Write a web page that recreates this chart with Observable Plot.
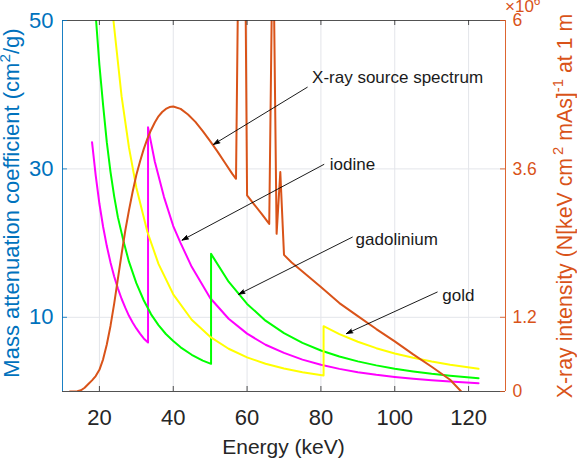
<!DOCTYPE html>
<html>
<head>
<meta charset="utf-8">
<script src="https://cdn.jsdelivr.net/npm/d3@7"></script>
<script src="https://cdn.jsdelivr.net/npm/@observablehq/plot@0.6"></script>
<style>
  html, body { margin: 0; padding: 0; background: #fff; }
  #chart { width: 577px; height: 460px; }
</style>
</head>
<body>
<div id="chart"></div>
<script>
// ---- axes ----
const energyTicks = [20, 40, 60, 80, 100, 120];
const muTicks = [10, 30, 50];
const intensityTicks = [0, 1.2, 3.6, 6];   // ×10^6
const energyDomain = [10, 130];
const muMax = 50;
const intensityMax = 6;

// ---- mass attenuation coefficients (cm^2/g) ----
const iodineEnergy = [18, 19, 20, 21, 22, 23, 24, 25, 26, 27, 28, 29, 30, 31, 32, 33.17, 33.17,
  35, 37.5, 40, 42, 45, 50, 55, 60, 65, 70, 75, 80, 85, 90, 95, 100, 105, 110, 115, 122.7];
const iodineMu = [33.6, 29.1, 25.3, 22.2, 19.6, 17.4, 15.5, 13.9, 12.5, 11.3, 10.2, 9.3, 8.5, 7.8, 7.15, 6.6, 35.6,
  31.0, 26.2, 22.3, 20.0, 16.8, 12.6, 9.8, 7.8, 6.3, 5.2, 4.3, 3.6, 3.05, 2.6, 2.25, 1.96, 1.72, 1.52, 1.35, 1.12];

const gadoliniumEnergy = [18.5, 19.1, 20, 21, 22, 23, 24, 25, 26.6, 28, 30, 32, 34, 36, 38, 40, 42, 45, 48, 50.24, 50.24,
  55, 60, 65, 70, 75, 80, 85, 90, 95, 100, 105, 110, 115, 122.7];
const gadoliniumMu = [54.5, 50, 44, 38.6, 33.6, 29.6, 26.3, 23.5, 20.1, 17.5, 14.6, 12.3, 10.4, 8.95, 7.75, 6.8, 5.95, 4.95, 4.17, 3.73, 18.55,
  14.8, 11.8, 9.55, 7.86, 6.56, 5.53, 4.72, 4.06, 3.52, 3.08, 2.71, 2.39, 2.13, 1.8];

const goldEnergy = [22, 23.8, 26, 28, 30, 33, 36, 40, 45, 50, 55, 60, 65, 70, 75, 80.72, 80.72,
  85, 90, 95, 100, 105, 110, 115, 122.7];
const goldMu = [61.3, 50, 39.8, 32.9, 27.5, 21.5, 17.2, 13.1, 9.67, 7.37, 5.76, 4.6, 3.74, 3.09, 2.59, 2.16, 8.8,
  7.74, 6.70, 5.84, 5.13, 4.54, 4.03, 3.60, 3.06];

// ---- X-ray source spectrum (×10^6 N/[keV cm^2 mAs] at 1 m) ----
const spectrumEnergy = [12, 13, 14, 15, 16, 17, 18, 19, 20, 21, 22, 23, 24, 25, 26, 27, 28, 29, 30,
  31, 32, 33, 34, 35, 36, 37, 38, 39, 40, 42, 44, 46, 48, 50, 52, 54, 56, 57, 58, 59, 60,
  62, 64, 66, 67, 68, 69, 70, 72, 75, 80, 85, 90, 95, 100, 105, 110, 115, 118];
const spectrumIntensity = [0, 0, 0.005, 0.02, 0.06, 0.12, 0.18, 0.25, 0.35, 0.52, 0.76, 1.06, 1.42, 1.82, 2.22, 2.6, 2.93, 3.23, 3.5,
  3.72, 3.92, 4.09, 4.23, 4.35, 4.45, 4.52, 4.57, 4.6, 4.61, 4.57, 4.48, 4.36, 4.21, 4.05, 3.88, 3.7, 3.52, 3.44, 9, 11, 3.17,
  3.02, 2.87, 2.71, 7.8, 2.55, 3.55, 2.21, 2.09, 1.94, 1.69, 1.43, 1.22, 1.01, 0.81, 0.6, 0.4, 0.19, 0];

// ---- annotations (energy keV, mass attenuation) ----
const noteText = ["X-ray source spectrum", "iodine", "gadolinium", "gold"];
const noteEnergy = [77.6, 82.4, 89.4, 112.9];
const noteMu = [42.3, 30.6, 20.5, 12.9];
const arrowTailEnergy = [76.3, 80.8, 88.5, 111.5];
const arrowTailMu = [41.0, 30.6, 20.8, 13.4];
const arrowTipEnergy = [50.9, 42.4, 57.7, 86.9];
const arrowTipMu = [33.3, 20.4, 13.1, 7.8];

// ---- style ----
const BLUE = "#0072BD", ORANGE = "#D95319", INK = "#262626", GRID = "#e3e5ea";
const FONT = "'Liberation Sans', Arial, Helvetica, sans-serif";
const W = 577, H = 460, mL = 62, mR = 72, mT = 20, mB = 69;
const plotW = W - mL - mR, plotH = H - mT - mB, tickLen = 5;

const series = (E, V) => E.map((e, i) => ({energy: e, value: V[i]}));
const iodine = series(iodineEnergy, iodineMu);
const gadolinium = series(gadoliniumEnergy, gadoliniumMu);
const gold = series(goldEnergy, goldMu);
const spectrum = series(spectrumEnergy, spectrumIntensity);
const toMu = v => v * muMax / intensityMax;   // right-axis units onto the left scale

const notes = noteText.map((t, i) => ({
  text: t, x: noteEnergy[i], y: noteMu[i],
  x1: arrowTailEnergy[i], y1: arrowTailMu[i], x2: arrowTipEnergy[i], y2: arrowTipMu[i]
}));

const chart = Plot.plot({
  width: W, height: H,
  marginLeft: mL, marginRight: mR, marginTop: mT, marginBottom: mB,
  x: {domain: energyDomain},
  y: {domain: [0, muMax]},
  style: {fontFamily: FONT, background: "white", overflow: "visible"},
  marks: [
    Plot.ruleX(energyTicks, {stroke: GRID, strokeOpacity: 1}),
    Plot.ruleY([10, 30], {stroke: GRID, strokeOpacity: 1}),

    Plot.line(iodine, {x: "energy", y: "value", stroke: "#ff00ff", strokeWidth: 2, clip: true}),
    Plot.line(gadolinium, {x: "energy", y: "value", stroke: "#00ff00", strokeWidth: 2, clip: true}),
    Plot.line(gold, {x: "energy", y: "value", stroke: "#ffff00", strokeWidth: 2, clip: true}),
    Plot.line(spectrum, {x: "energy", y: d => toMu(d.value), stroke: ORANGE, strokeWidth: 2, clip: true}),

    // box
    Plot.ruleY([0, muMax], {stroke: INK, strokeWidth: 0.8}),
    Plot.ruleX([energyDomain[0]], {stroke: BLUE, strokeWidth: 0.9}),
    Plot.ruleX([energyDomain[1]], {stroke: ORANGE, strokeWidth: 0.9}),

    // inward ticks
    Plot.tickX(energyTicks, {x: d => d, insetTop: plotH - tickLen, stroke: INK, strokeWidth: 0.8}),
    Plot.tickX(energyTicks, {x: d => d, insetBottom: plotH - tickLen, stroke: INK, strokeWidth: 0.8}),
    Plot.tickY(muTicks, {y: d => d, insetRight: plotW - tickLen, stroke: BLUE, strokeWidth: 0.8}),
    Plot.tickY(intensityTicks, {y: toMu, insetLeft: plotW - tickLen, stroke: ORANGE, strokeWidth: 0.8}),

    // tick labels
    Plot.axisX(energyTicks, {tickSize: 0, tickPadding: 18, fontSize: 22, color: INK, label: null}),
    Plot.axisY(muTicks, {anchor: "left", tickSize: 0, tickPadding: 9, fontSize: 22, color: BLUE, label: null}),
    Plot.text(intensityTicks, {x: energyDomain[1], y: toMu, text: d => String(d), dx: 7,
      textAnchor: "start", fill: ORANGE, fontSize: 17.5}),

    // annotations
    Plot.arrow(notes, {x1: "x1", y1: "y1", x2: "x2", y2: "y2", stroke: "#000", fill: "#000",
      strokeWidth: 0.9, headLength: 11, headAngle: 36}),
    Plot.text(notes, {x: "x", y: "y", text: "text", textAnchor: "start", fontSize: 17, fill: "#1a1a1a"})
  ]
});

document.getElementById("chart").appendChild(chart);

// axis titles with superscripts
const svg = d3.select(chart);
function title(x, y, rotate, color, size, anchor, parts) {
  const t = svg.append("text")
    .attr("transform", `translate(${x},${y})` + (rotate ? ` rotate(${rotate})` : ""))
    .attr("text-anchor", anchor)
    .attr("fill", color)
    .attr("font-family", FONT)
    .attr("font-size", size);
  let raised = false;
  for (const [s, sup, dx] of parts) {
    const span = t.append("tspan").text(s);
    if (sup && !raised) { span.attr("dy", -size * 0.4).attr("font-size", size * 0.7); raised = true; }
    else if (!sup && raised) { span.attr("dy", size * 0.4); raised = false; }
    if (dx) span.attr("dx", dx);
  }
}
title(18.5, 203, -90, BLUE, 22, "middle",
  [["Mass attenuation coefficient (cm"], ["2", true], ["/g)"]]);
title(572, 206, -90, ORANGE, 21.3, "middle",
  [["X-ray intensity (N[keV cm"], ["2", true, 3], [" mAs]"], ["-1", true], [" at 1 m"]]);
title(283.5, 454, 0, INK, 21, "middle", [["Energy (keV)"]]);
title(505, 11.5, 0, ORANGE, 17, "start", [["×10"], ["6", true]]);
</script>
</body>
</html>
